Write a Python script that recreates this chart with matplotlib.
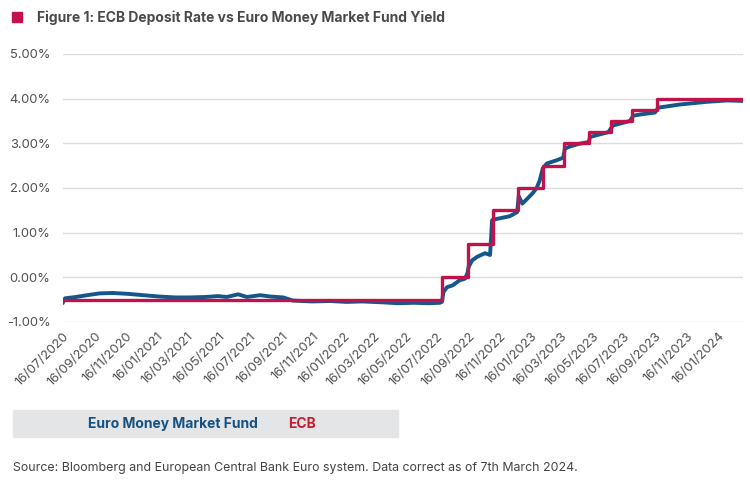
import matplotlib
matplotlib.use("Agg")
import matplotlib.pyplot as plt
from matplotlib.patches import Rectangle
import pandas as pd

# ---------------- data ----------------
tick_labels = ["16/07/2020", "16/09/2020", "16/11/2020", "16/01/2021", "16/03/2021",
               "16/05/2021", "16/07/2021", "16/09/2021", "16/11/2021", "16/01/2022",
               "16/03/2022", "16/05/2022", "16/07/2022", "16/09/2022", "16/11/2022",
               "16/01/2023", "16/03/2023", "16/05/2023", "16/07/2023", "16/09/2023",
               "16/11/2023", "16/01/2024"]
y_ticks = [-1, 0, 1, 2, 3, 4, 5]

ecb_dates = ["2020-07-16", "2022-07-27", "2022-09-14", "2022-11-02", "2022-12-21",
             "2023-02-08", "2023-03-22", "2023-05-10", "2023-06-21", "2023-08-02",
             "2023-09-20", "2024-03-05"]
ecb_rate = [-0.50, 0.00, 0.75, 1.50, 2.00, 2.50, 3.00, 3.25, 3.50, 3.75, 4.00, 4.00]

mmf_dates = ["2020-07-16", "2020-07-20", "2020-08-10", "2020-09-01", "2020-09-25",
             "2020-10-20", "2020-11-20", "2020-12-20", "2021-01-20", "2021-02-20",
             "2021-03-20", "2021-04-20", "2021-05-15", "2021-06-01", "2021-06-23",
             "2021-07-10", "2021-08-05", "2021-08-25", "2021-09-19", "2021-10-08",
             "2021-11-15", "2021-12-20", "2022-01-20", "2022-02-20", "2022-04-02",
             "2022-05-01", "2022-06-01", "2022-07-01", "2022-07-22", "2022-07-26",
             "2022-07-29", "2022-08-05", "2022-08-16", "2022-08-29", "2022-09-09",
             "2022-09-14", "2022-09-16", "2022-09-23", "2022-10-03", "2022-10-18",
             "2022-10-28", "2022-11-01", "2022-11-11", "2022-12-06", "2022-12-20",
             "2022-12-23", "2022-12-30", "2023-01-07", "2023-01-19", "2023-01-27",
             "2023-02-02", "2023-02-08", "2023-02-16", "2023-03-07", "2023-03-20",
             "2023-03-23", "2023-04-02", "2023-04-20", "2023-05-09", "2023-05-11",
             "2023-05-30", "2023-06-16", "2023-06-25", "2023-07-08", "2023-07-28",
             "2023-08-04", "2023-08-20", "2023-09-15", "2023-09-22", "2023-11-03",
             "2023-12-26", "2024-02-03", "2024-03-05"]
mmf_yield = [-0.56, -0.47, -0.44, -0.40, -0.36,
             -0.35, -0.37, -0.40, -0.43, -0.45,
             -0.45, -0.44, -0.42, -0.44, -0.38,
             -0.44, -0.40, -0.43, -0.45, -0.52,
             -0.54, -0.53, -0.55, -0.54, -0.56,
             -0.58, -0.57, -0.58, -0.57, -0.55,
             -0.33, -0.22, -0.18, -0.07, -0.03,
             0.10, 0.23, 0.38, 0.46, 0.54,
             0.50, 1.28, 1.31, 1.37, 1.46,
             1.82, 1.65, 1.74, 1.88, 2.00,
             2.17, 2.44, 2.55, 2.62, 2.68,
             2.88, 2.93, 2.99, 3.03, 3.14,
             3.20, 3.25, 3.40, 3.44, 3.50,
             3.62, 3.65, 3.69, 3.80, 3.87,
             3.93, 3.96, 3.95]

title = "Figure 1: ECB Deposit Rate vs Euro Money Market Fund Yield"
source = "Source: Bloomberg and European Central Bank Euro system. Data correct as of 7th March 2024."

# ---------------- style ----------------
BLUE = "#14578a"
RED = "#c2124b"
TXT = "#505050"
plt.rcParams["font.family"] = ["Inter", "DejaVu Sans"]

fig = plt.figure(figsize=(7.5, 4.93), dpi=100)
ax = fig.add_axes([63 / 750, (493 - 322) / 493, 680 / 750, 268 / 493])

md = pd.to_datetime(mmf_dates)
ed = pd.to_datetime(ecb_dates)
ax.plot(md, mmf_yield, color=BLUE, lw=2.8, solid_joinstyle="round", zorder=3)
ax.step(ed, ecb_rate, where="post", color=RED, lw=2.4, zorder=4)

ax.set_ylim(-1, 5)
ax.set_yticks(y_ticks)
ax.set_yticklabels([f"{v:.2f}%" for v in y_ticks])
ax.set_xlim(pd.Timestamp("2020-07-16"), pd.Timestamp("2024-03-05"))
tick_pos = pd.to_datetime(tick_labels, format="%d/%m/%Y")
ax.set_xticks(tick_pos)
ax.set_xticklabels(tick_labels, rotation=45, ha="right", va="top",
                   rotation_mode="anchor")
ax.tick_params(axis="both", length=0, colors=TXT, labelsize=9.3)
ax.tick_params(axis="y", pad=9)
ax.tick_params(axis="x", pad=6)
ax.grid(axis="y", color="#dcdcdc", lw=1.0)
ax.set_axisbelow(True)
for s in ax.spines.values():
    s.set_visible(False)

# title with square
fig.patches.append(Rectangle((12 / 750, 1 - 22 / 493), 10 / 750, 10 / 493,
                             transform=fig.transFigure, color=RED))
fig.text(37 / 750, 1 - 18 / 493, title, fontsize=10.0, fontweight="bold",
         color="#4a4a4a", va="center", ha="left")

# legend box
fig.patches.append(Rectangle((13 / 750, 1 - 437 / 493), 385 / 750, 27 / 493,
                             transform=fig.transFigure, color="#e4e5e7"))
fig.text(88 / 750, 1 - 424 / 493, "Euro Money Market Fund", fontsize=10,
         fontweight="bold", color="#17517f", va="center", ha="left")
fig.text(288 / 750, 1 - 424 / 493, "ECB", fontsize=10, fontweight="bold",
         color="#c41f35", va="center", ha="left")

fig.text(13 / 750, 1 - 468 / 493, source, fontsize=8.9, color="#444444",
         va="center", ha="left")

fig.savefig("out.png", dpi=100)
